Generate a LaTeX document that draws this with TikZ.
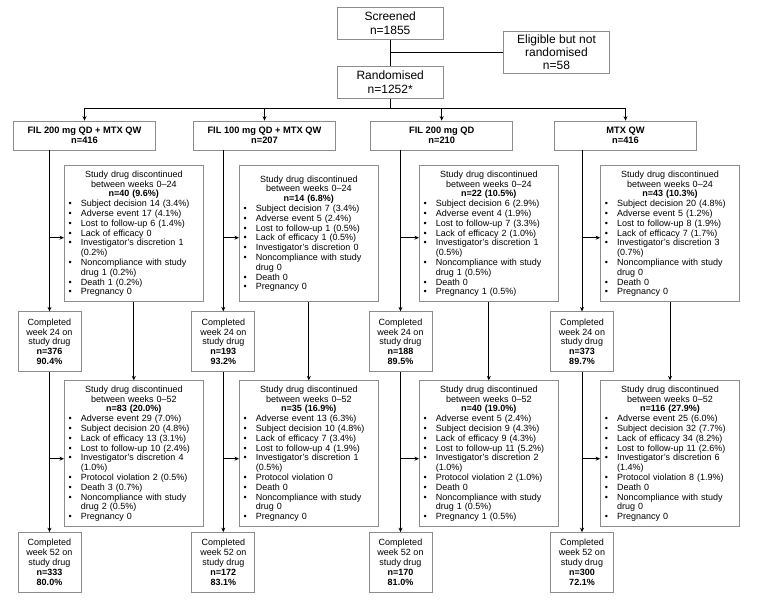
\documentclass[tikz,border=0pt]{standalone}
\usepackage{fontspec}
\setmainfont{Liberation Sans}
\usetikzlibrary{arrows.meta}
\definecolor{boxgray}{HTML}{8C8C8C}
\newcommand\bul[1]{\par\noindent\hbox to 12.5pt{\hskip0.3pt\textbullet\hss}#1}
\newcommand\cnt[1]{\par\noindent\hbox to 12.5pt{\hss}#1}
\newcommand\dhead[2]{{\centering Study drug discontinued\\between weeks #1\\\textbf{#2}\par}\raggedright}
\begin{document}
\begin{tikzpicture}[x=1pt,y=-1pt,
  box/.style={draw=boxgray,line width=0.7pt,inner sep=0pt,align=center},
  big/.style={box,font=\fontsize{12}{13.3}\selectfont,minimum width=106pt},
  arm/.style={box,font=\fontsize{9.3}{10}\selectfont\bfseries,minimum width=142pt,minimum height=29pt},
  done/.style={box,font=\fontsize{9}{9.9}\selectfont,minimum width=63pt,minimum height=60pt},
  disc/.style={draw=boxgray,line width=0.7pt,inner xsep=4pt,inner ysep=0pt,text width=131pt,font=\fontsize{9}{9.8}\selectfont},
  conn/.style={line width=1pt},
  arr/.style={conn,-{Stealth[length=4.5pt,width=4pt]}}]
\fill[white] (0,0) rectangle (763,600);
\useasboundingbox (0,0) rectangle (763,600);
% top
\node[big,minimum height=32pt] (scr) at (390.2,23.3) {Screened\\n=1855};
\node[big,minimum height=32.3pt] (rand) at (390.2,82.2) {Randomised\\n=1252*};
\node[big,minimum width=105.6pt,minimum height=42.6pt] (elig) at (556.5,52.3) {Eligible but not\\randomised\\n=58};
\draw[conn] (scr) -- (rand);
\draw[conn] (elig.west) -- (elig.west -| scr.south);
% arms
\node[arm] (t1) at (84.5,135.5) {FIL 200 mg QD + MTX QW\\n=416};
\node[arm] (t2) at (264.5,135.5) {FIL 100 mg QD + MTX QW\\n=207};
\node[arm] (t3) at (441.7,135.5) {FIL 200 mg QD\\n=210};
\node[arm] (t4) at (625.5,135.5) {MTX QW\\n=416};
\coordinate (busy) at (0,108.7);
\coordinate (bus) at (rand.south |- busy);
\draw[conn] (rand) -- (bus);
\foreach \t in {t1,t2,t3,t4} \draw[arr] (bus) -| (\t);
% completed boxes
\node[done] (c1a) at (49.5,341.7) {Completed\\week 24 on\\study drug\\\textbf{n=376}\\\textbf{90.4\%}};
\node[done] (c2a) at (223.3,341.7) {Completed\\week 24 on\\study drug\\\textbf{n=193}\\\textbf{93.2\%}};
\node[done] (c3a) at (400.5,341.7) {Completed\\week 24 on\\study drug\\\textbf{n=188}\\\textbf{89.5\%}};
\node[done] (c4a) at (582,341.7) {Completed\\week 24 on\\study drug\\\textbf{n=373}\\\textbf{89.7\%}};
\node[done] (c1b) at (49.5,562.5) {Completed\\week 52 on\\study drug\\\textbf{n=333}\\\textbf{80.0\%}};
\node[done] (c2b) at (223.3,562.5) {Completed\\week 52 on\\study drug\\\textbf{n=172}\\\textbf{83.1\%}};
\node[done] (c3b) at (400.5,562.5) {Completed\\week 52 on\\study drug\\\textbf{n=170}\\\textbf{81.0\%}};
\node[done] (c4b) at (582,562.5) {Completed\\week 52 on\\study drug\\\textbf{n=300}\\\textbf{72.1\%}};
% discontinued 0-24
\node[disc,minimum height=136pt] (d1a) at (133.8,233.7) {\dhead{0--24}{n=40 (9.6\%)}
\bul{Subject decision 14 (3.4\%)}
\bul{Adverse event 17 (4.1\%)}
\bul{Lost to follow-up 6 (1.4\%)}
\bul{Lack of efficacy 0}
\bul{Investigator's discretion 1}\cnt{(0.2\%)}
\bul{Noncompliance with study}\cnt{drug 1 (0.2\%)}
\bul{Death 1 (0.2\%)}
\bul{Pregnancy 0}};
\node[disc,minimum height=136pt] (d2a) at (308.8,233.7) {\dhead{0--24}{n=14 (6.8\%)}
\bul{Subject decision 7 (3.4\%)}
\bul{Adverse event 5 (2.4\%)}
\bul{Lost to follow-up 1 (0.5\%)}
\bul{Lack of efficacy 1 (0.5\%)}
\bul{Investigator's discretion 0}
\bul{Noncompliance with study}\cnt{drug 0}
\bul{Death 0}
\bul{Pregnancy 0}};
\node[disc,minimum height=136pt] (d3a) at (488.8,233.7) {\dhead{0--24}{n=22 (10.5\%)}
\bul{Subject decision 6 (2.9\%)}
\bul{Adverse event 4 (1.9\%)}
\bul{Lost to follow-up 7 (3.3\%)}
\bul{Lack of efficacy 2 (1.0\%)}
\bul{Investigator's discretion 1}\cnt{(0.5\%)}
\bul{Noncompliance with study}\cnt{drug 1 (0.5\%)}
\bul{Death 0}
\bul{Pregnancy 1 (0.5\%)}};
\node[disc,minimum height=136pt] (d4a) at (670,233.7) {\dhead{0--24}{n=43 (10.3\%)}
\bul{Subject decision 20 (4.8\%)}
\bul{Adverse event 5 (1.2\%)}
\bul{Lost to follow-up 8 (1.9\%)}
\bul{Lack of efficacy 7 (1.7\%)}
\bul{Investigator's discretion 3}\cnt{(0.7\%)}
\bul{Noncompliance with study}\cnt{drug 0}
\bul{Death 0}
\bul{Pregnancy 0}};
% discontinued 0-52
\node[disc,minimum height=146pt] (d1b) at (133.8,453.7) {\dhead{0--52}{n=83 (20.0\%)}
\bul{Adverse event 29 (7.0\%)}
\bul{Subject decision 20 (4.8\%)}
\bul{Lack of efficacy 13 (3.1\%)}
\bul{Lost to follow-up 10 (2.4\%)}
\bul{Investigator's discretion 4}\cnt{(1.0\%)}
\bul{Protocol violation 2 (0.5\%)}
\bul{Death 3 (0.7\%)}
\bul{Noncompliance with study}\cnt{drug 2 (0.5\%)}
\bul{Pregnancy 0}};
\node[disc,minimum height=146pt] (d2b) at (308.8,453.7) {\dhead{0--52}{n=35 (16.9\%)}
\bul{Adverse event 13 (6.3\%)}
\bul{Subject decision 10 (4.8\%)}
\bul{Lack of efficacy 7 (3.4\%)}
\bul{Lost to follow-up 4 (1.9\%)}
\bul{Investigator's discretion 1}\cnt{(0.5\%)}
\bul{Protocol violation 0}
\bul{Death 0}
\bul{Noncompliance with study}\cnt{drug 0}
\bul{Pregnancy 0}};
\node[disc,minimum height=146pt] (d3b) at (488.8,453.7) {\dhead{0--52}{n=40 (19.0\%)}
\bul{Adverse event 5 (2.4\%)}
\bul{Subject decision 9 (4.3\%)}
\bul{Lack of efficacy 9 (4.3\%)}
\bul{Lost to follow-up 11 (5.2\%)}
\bul{Investigator's discretion 2}\cnt{(1.0\%)}
\bul{Protocol violation 2 (1.0\%)}
\bul{Death 0}
\bul{Noncompliance with study}\cnt{drug 1 (0.5\%)}
\bul{Pregnancy 1 (0.5\%)}};
\node[disc,minimum height=146pt] (d4b) at (670,453.7) {\dhead{0--52}{n=116 (27.9\%)}
\bul{Adverse event 25 (6.0\%)}
\bul{Subject decision 32 (7.7\%)}
\bul{Lack of efficacy 34 (8.2\%)}
\bul{Lost to follow-up 11 (2.6\%)}
\bul{Investigator's discretion 6}\cnt{(1.4\%)}
\bul{Protocol violation 8 (1.9\%)}
\bul{Death 0}
\bul{Noncompliance with study}\cnt{drug 0}
\bul{Pregnancy 0}};
% connectors per column
\foreach \i in {1,2,3,4} {
  \draw[arr] (t\i.south -| c\i a) -- (c\i a);
  \draw[arr] (c\i a) -- (c\i b);
  \draw[arr] (d\i a) -- (d\i b);
  \path (d\i a.west) ++(0,4) coordinate (h\i a);
  \path (d\i b.west) ++(0,5) coordinate (h\i b);
  \draw[arr] (h\i a -| c\i a) -- (h\i a);
  \draw[arr] (h\i b -| c\i b) -- (h\i b);
}
\end{tikzpicture}
\end{document}
